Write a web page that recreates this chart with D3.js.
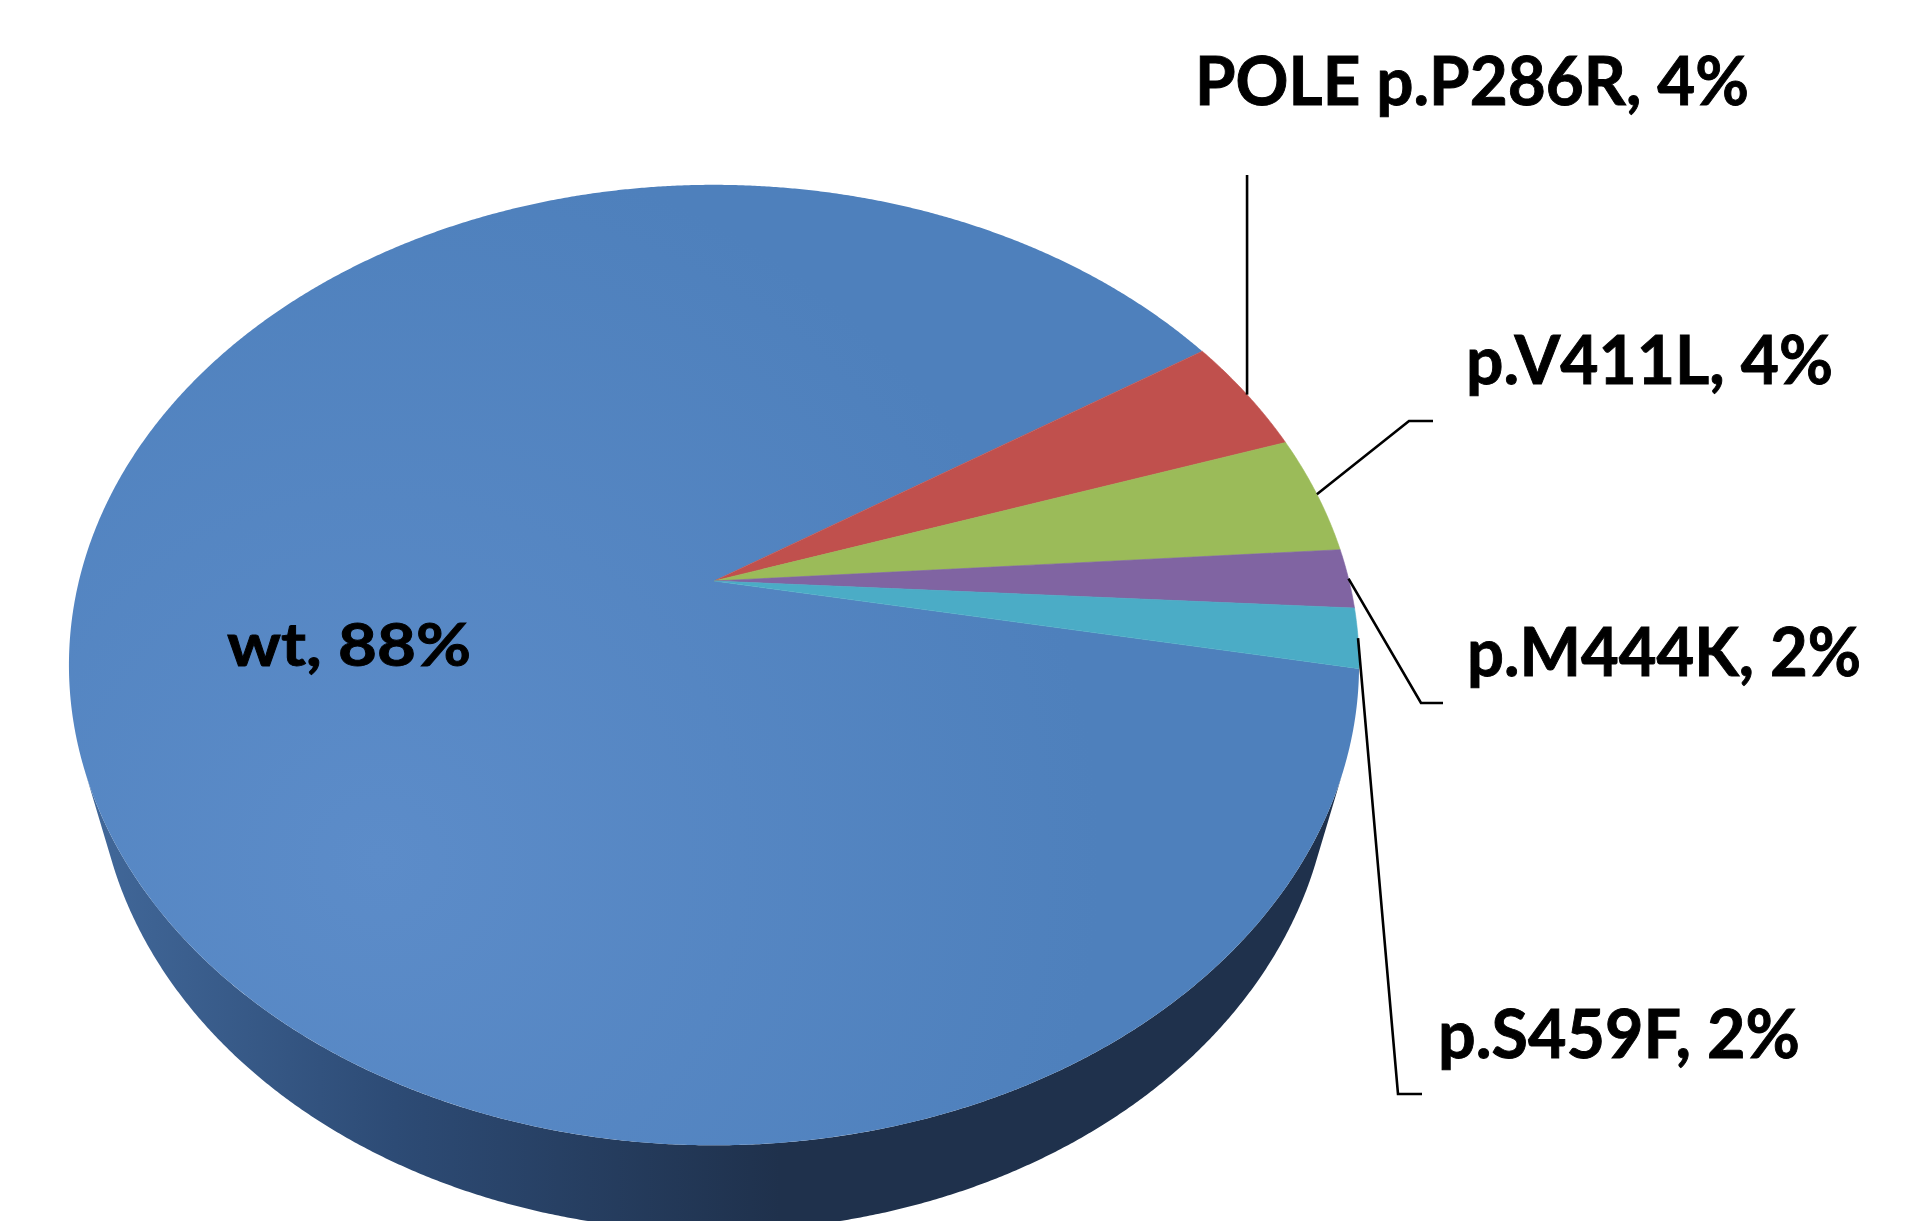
<!DOCTYPE html>
<html>
<head>
<meta charset="utf-8">
<script src="https://cdn.jsdelivr.net/npm/d3@7"></script>
<style>
  html, body { margin: 0; padding: 0; background: #ffffff; overflow: hidden; }
  text { font-family: Lato, "Open Sans", "DejaVu Sans", sans-serif; font-weight: 700; fill: #000; stroke: #000; stroke-width: 0.9px; }
</style>
</head>
<body>
<svg id="chart" width="1930" height="1221"></svg>
<script>
// POLE exonuclease-domain status: share of cases per variant
const categories = ["wt", "POLE p.P286R", "p.V411L", "p.M444K", "p.S459F"];
const shares = [88, 4, 4, 2, 2];
const palette = ["#4F81BD", "#C0504D", "#9BBB59", "#8064A2", "#4BACC6"];

// Label placement: left/baseline of the text, fitted width, font size, leader route
const labelLayout = [
  { x: 227,  y: 666,  w: 244, size: 60, leader: null },
  { x: 1195, y: 105,  w: 554, size: 66, leader: { up: 175 } },
  { x: 1466, y: 384,  w: 367, size: 66, leader: { pts: [[1409, 421], [1433, 421]] } },
  { x: 1467, y: 676,  w: 394, size: 66, leader: { pts: [[1421, 703], [1443, 703]] } },
  { x: 1438, y: 1058, w: 362, size: 66, leader: { pts: [[1398, 1094], [1422, 1094]] } }
];

const svg = d3.select("#chart");
const defs = svg.append("defs");

// Light falling on the top face from the lower left
const topShade = defs.append("radialGradient")
  .attr("id", "topShade").attr("gradientUnits", "userSpaceOnUse")
  .attr("cx", 380).attr("cy", 860).attr("r", 720);
topShade.append("stop").attr("offset", 0).attr("stop-color", "#5C8CC9");
topShade.append("stop").attr("offset", 1).attr("stop-color", "#4E80BC");

// Rim of the disc, lit on the left and dark towards the right
const sideShade = defs.append("linearGradient")
  .attr("id", "sideShade").attr("gradientUnits", "userSpaceOnUse")
  .attr("x1", 80).attr("y1", 0).attr("x2", 780).attr("y2", 0);
sideShade.append("stop").attr("offset", 0).attr("stop-color", "#42699B");
sideShade.append("stop").attr("offset", 0.45).attr("stop-color", "#2D4B75");
sideShade.append("stop").attr("offset", 1).attr("stop-color", "#1F314C");

// Perspective camera looking down on a unit disc
const cam = { cx: 714, cy: 581, f: 2468, dist: 3.886, tilt: Math.asin(0.733), thick: 0.2285 };
const sT = Math.sin(cam.tilt), cT = Math.cos(cam.tilt);
function project(theta, r, z) {
  const x = r * Math.sin(theta), y = r * Math.cos(theta);
  const dep = cam.dist + y * cT - z * sT;
  return [cam.cx + cam.f * x / dep, cam.cy - cam.f * (y * sT + z * cT) / dep];
}
function arcPoints(a0, a1, z) {
  const n = Math.max(2, Math.ceil(Math.abs(a1 - a0) / (Math.PI / 720)));
  return d3.range(n + 1).map(i => project(a0 + (a1 - a0) * i / n, 1, z));
}

const start = 100.5 * Math.PI / 180;
const pie = d3.pie().sort(null).value(d => d.value)
  .startAngle(start).endAngle(start + 2 * Math.PI);
const data = categories.map((c, i) => ({ name: c, value: shares[i] }));
const arcs = pie(data);
const color = d3.scaleOrdinal().domain(categories).range(palette);
const line = d3.line();

// Visible rim between the two silhouette generators
const silhouette = Math.acos(-1 / (cam.dist * cT));
const sideTop = arcPoints(silhouette, 2 * Math.PI - silhouette, 0);
const sideBottom = arcPoints(2 * Math.PI - silhouette, silhouette, -cam.thick);
svg.append("path")
  .attr("d", line(sideTop.concat(sideBottom)) + "Z")
  .attr("fill", "url(#sideShade)");

// Top faces of the slices
const apex = project(0, 0, 0);
svg.append("g").selectAll("path").data(arcs).join("path")
  .attr("d", d => line([apex].concat(arcPoints(d.startAngle, d.endAngle, 0))) + "Z")
  .attr("fill", (d, i) => i === 0 ? "url(#topShade)" : color(d.data.name))
  .attr("stroke", (d, i) => i === 0 ? "none" : color(d.data.name))
  .attr("stroke-width", 0.6);

// Leader lines from the rim midpoint of each small slice
const leaders = svg.append("g").attr("fill", "none").attr("stroke", "#000").attr("stroke-width", 2.6);
arcs.forEach((d, i) => {
  const lay = labelLayout[i];
  if (!lay.leader) return;
  const anchor = project((d.startAngle + d.endAngle) / 2, 1, 0);
  const pts = lay.leader.up !== undefined
    ? [anchor, [anchor[0], lay.leader.up]]
    : [anchor].concat(lay.leader.pts);
  leaders.append("path").attr("d", line(pts));
});

// Category labels
svg.append("g").selectAll("text").data(arcs).join("text")
  .attr("x", (d, i) => labelLayout[i].x)
  .attr("y", (d, i) => labelLayout[i].y)
  .attr("font-size", (d, i) => labelLayout[i].size)
  .attr("textLength", (d, i) => labelLayout[i].w)
  .attr("lengthAdjust", "spacingAndGlyphs")
  .text(d => `${d.data.name}, ${d.data.value}%`);
</script>
</body>
</html>
